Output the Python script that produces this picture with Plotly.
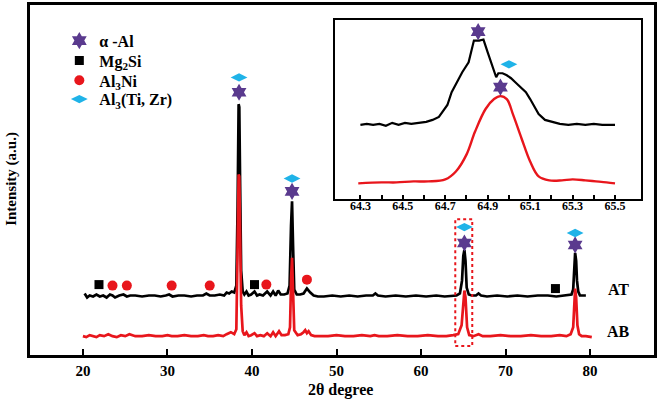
import plotly.graph_objects as go

# ---------------- data ----------------
AT_X = [20.2, 20.5, 20.8, 21.2, 21.6, 22.0, 22.4, 22.8, 23.2, 23.5, 23.8, 24.3, 24.8, 25.2, 25.6,
        26.2, 27.0, 27.8, 28.5, 29.2, 29.8, 30.2, 30.6, 31.3, 32.0, 32.8, 33.5, 34.2, 34.6, 35.0,
        35.6, 36.2, 36.7, 37.0, 37.3, 37.6, 37.9, 38.15, 38.3, 38.42, 38.5, 38.6, 38.72, 38.9,
        39.1, 39.35, 39.6, 39.9, 40.3, 40.6, 40.9, 41.3, 41.8, 42.2, 42.5, 42.8, 43.1, 43.4,
        43.8, 44.2, 44.45, 44.62, 44.74, 44.86, 45.0, 45.3, 45.7, 46.1, 46.5, 46.9, 47.3, 47.8,
        48.5, 49.5, 50.5, 51.5, 52.5, 53.5, 54.3, 54.6, 54.9, 55.8, 57.0, 58.2, 59.4, 60.6,
        61.8, 62.8, 63.6, 64.2, 64.6, 64.85, 65.0, 65.13, 65.26, 65.4, 65.65, 66.0, 66.5, 66.8,
        67.1, 67.8, 69.0, 70.2, 71.4, 72.6, 73.8, 75.0, 76.0, 76.8, 77.4, 77.8, 78.0, 78.13,
        78.23, 78.35, 78.45, 78.6, 78.8, 79.1, 79.5]
AT_Y = [62, 58, 60, 59, 61, 59, 60, 58, 61, 60, 58, 60, 61, 59, 60,
        60, 59, 60, 60, 59, 60, 61, 59, 60, 60, 59, 60, 60, 62, 60,
        60, 61, 60, 63, 62, 64, 63, 70, 150, 253, 250, 170, 85, 64,
        61, 64, 60, 61, 64, 60, 61, 60, 64, 60, 64, 60, 65, 61,
        61, 62, 70, 130, 155, 110, 66, 61, 61, 62, 67, 63, 60, 59,
        59, 60, 59, 60, 59, 60, 60, 62, 60, 59, 60, 59, 60, 59,
        60, 59, 60, 60, 62, 75, 100, 106, 95, 68, 61, 60, 60, 62,
        60, 59, 60, 59, 60, 59, 60, 60, 59, 60, 60, 61, 66, 90,
        103, 95, 75, 64, 60, 60, 60]

AB_X = [20.0, 20.4, 20.8, 21.2, 21.6, 22.0, 22.5, 23.0, 23.5, 24.0, 24.5, 25.0, 25.5, 26.2,
        27.0, 27.8, 28.6, 29.4, 30.0, 30.5, 31.2, 32.0, 32.8, 33.6, 34.3, 34.8, 35.4, 36.0,
        36.6, 37.0, 37.5, 37.9, 38.15, 38.3, 38.42, 38.5, 38.6, 38.72, 38.9, 39.1, 39.35,
        39.6, 39.9, 40.3, 40.6, 41.0, 41.4, 41.8, 42.2, 42.5, 42.8, 43.2, 43.5, 43.9, 44.3,
        44.5, 44.64, 44.74, 44.84, 45.0, 45.4, 45.8, 46.1, 46.3, 46.5, 46.7, 47.0, 47.4, 48.0,
        49.0, 50.0, 51.0, 52.0, 53.0, 54.0, 54.5, 55.0, 56.0, 57.2, 58.4, 59.6, 60.8, 62.0,
        63.0, 63.8, 64.4, 64.8, 65.0, 65.13, 65.26, 65.45, 65.7, 66.2, 66.8, 67.3, 68.2,
        69.4, 70.6, 71.8, 73.0, 74.2, 75.4, 76.4, 77.2, 77.7, 78.0, 78.13, 78.23, 78.35,
        78.5, 78.7, 79.0, 79.5, 80.2]
AB_Y = [19, 18, 20, 19, 18, 20, 19, 21, 19, 18, 20, 19, 21, 19,
        19, 20, 19, 19, 20, 19, 19, 20, 19, 19, 20, 19, 19, 20,
        19, 21, 23, 21, 26, 110, 182, 180, 120, 50, 24, 20, 23,
        19, 20, 22, 19, 20, 19, 22, 19, 23, 19, 24, 20, 20, 21,
        28, 80, 98, 70, 25, 20, 21, 23, 25, 22, 24, 20, 19, 19,
        19, 20, 19, 19, 20, 19, 20, 19, 19, 20, 19, 19, 20, 19,
        19, 20, 21, 30, 55, 65, 58, 28, 20, 19, 21, 19, 19,
        20, 19, 19, 20, 19, 19, 20, 19, 21, 28, 55, 67, 58,
        30, 21, 19, 19, 18]

# phase markers (main panel)
AL_X = [38.47, 44.74, 65.13, 78.23]
AL_Y = [265, 165, 113, 111]
TIZR_X = [38.47, 44.74, 65.13, 78.23]
TIZR_Y = [280, 178, 129, 123]
MG2SI_X = [21.9, 40.3, 75.9]
MG2SI_Y = [71, 71, 67]
AL3NI_X = [23.5, 25.2, 30.5, 35.0, 41.7, 46.5]
AL3NI_Y = [70, 70, 70, 70, 71, 76]

# inset (64.3 - 65.5 deg)
IN_AT_X = [64.30, 64.33, 64.36, 64.39, 64.42, 64.45, 64.48, 64.51, 64.54, 64.57, 64.61, 64.64,
           64.67, 64.71, 64.73, 64.76, 64.78, 64.81, 64.835, 64.86, 64.88, 64.90, 64.92, 64.94,
           64.95, 64.97, 64.99, 65.01, 65.03, 65.06, 65.08, 65.10, 65.12, 65.14, 65.17, 65.20,
           65.24, 65.28, 65.32, 65.36, 65.40, 65.44, 65.48, 65.50]
IN_AT_Y = [75, 76, 75, 76, 74, 77, 75, 77, 76, 77, 78, 80,
           83, 95, 108, 120, 128, 138, 160, 160, 161, 148, 136, 123,
           127, 127, 125, 122, 118, 112, 108, 101, 93, 86, 80, 78,
           76, 75, 76, 75, 76, 75, 75, 75]
IN_AB_X = [64.29, 64.40, 64.47, 64.55, 64.62, 64.70, 64.75, 64.80, 64.84, 64.89, 64.93, 64.96,
           64.99, 65.02, 65.06, 65.10, 65.14, 65.19, 65.25, 65.30, 65.36, 65.41, 65.46, 65.50]
IN_AB_Y = [16, 17, 17, 18, 18, 20, 28, 45, 68, 91, 101, 104,
           101, 85, 61, 38, 23, 19, 19, 20, 19, 18, 17, 16]
IN_AL_X = [64.855, 64.96]
IN_AL_Y = [169, 113]
IN_TIZR_X = [65.0]
IN_TIZR_Y = [136]

MAIN_TICKS = [20, 30, 40, 50, 60, 70, 80]
INSET_TICKS = [64.3, 64.5, 64.7, 64.9, 65.1, 65.3, 65.5]
INSET_MINOR_TICKS = [64.4, 64.6, 64.8, 65.0, 65.2, 65.4]

# ---------------- styling ----------------
FONT = "Liberation Serif"
BLACK = "#000000"
RED = "#e8161c"
PURPLE = "#5a3a8e"
CYAN = "#1fb3e8"
STAR = "hexagram"
LEG_FONT = dict(family=FONT, size=16, color="black", weight="bold")

fig = go.Figure()

fig.add_trace(go.Scatter(x=AT_X, y=AT_Y, mode="lines", line=dict(color=BLACK, width=2.7),
                         showlegend=False, hoverinfo="skip"))
fig.add_trace(go.Scatter(x=AB_X, y=AB_Y, mode="lines", line=dict(color=RED, width=2.7),
                         showlegend=False, hoverinfo="skip"))

fig.add_trace(go.Scatter(x=AL_X, y=AL_Y, mode="markers", name="α -Al", legend="legend",
                         marker=dict(symbol=STAR, size=13, color=PURPLE)))
fig.add_trace(go.Scatter(x=MG2SI_X, y=MG2SI_Y, mode="markers", name="Mg<sub>2</sub>Si",
                         legend="legend2", marker=dict(symbol="square", size=9, color=BLACK)))
fig.add_trace(go.Scatter(x=AL3NI_X, y=AL3NI_Y, mode="markers", name="Al<sub>3</sub>Ni",
                         legend="legend3", marker=dict(symbol="circle", size=10, color=RED)))
fig.add_trace(go.Scatter(x=TIZR_X, y=TIZR_Y, mode="markers", name="Al<sub>3</sub>(Ti, Zr)",
                         legend="legend4",
                         marker=dict(symbol="diamond-wide", size=12, color=CYAN)))

# inset
fig.add_trace(go.Scatter(x=IN_AT_X, y=IN_AT_Y, mode="lines", xaxis="x2", yaxis="y2",
                         line=dict(color=BLACK, width=2.2), showlegend=False, hoverinfo="skip"))
fig.add_trace(go.Scatter(x=IN_AB_X, y=IN_AB_Y, mode="lines", xaxis="x2", yaxis="y2",
                         line=dict(color=RED, width=2.4, shape="spline"), showlegend=False,
                         hoverinfo="skip"))
fig.add_trace(go.Scatter(x=IN_AL_X, y=IN_AL_Y, mode="markers", xaxis="x2", yaxis="y2",
                         marker=dict(symbol=STAR, size=13, color=PURPLE), showlegend=False))
fig.add_trace(go.Scatter(x=IN_TIZR_X, y=IN_TIZR_Y, mode="markers", xaxis="x2", yaxis="y2",
                         marker=dict(symbol="diamond-wide", size=12, color=CYAN), showlegend=False))


def leg(ypix):
    # legend positioned by the pixel row of its item centre
    return dict(x=0.047, y=(355 - ypix) / 353, xanchor="left", yanchor="middle",
                bgcolor="rgba(0,0,0,0)", font=LEG_FONT, borderwidth=0)


fig.update_layout(
    width=659, height=399,
    margin=dict(l=30, r=4, t=2, b=44),
    paper_bgcolor="white", plot_bgcolor="white",
    font=dict(family=FONT, color="black", size=14),
    xaxis=dict(range=[13.74, 87.56], tickvals=MAIN_TICKS, ticks="inside", ticklen=6,
               tickwidth=2, tickcolor="black", showline=True, linewidth=3, linecolor="black",
               mirror=True, showgrid=False, zeroline=False,
               tickfont=dict(family=FONT, size=15, color="black", weight="bold")),
    yaxis=dict(range=[0, 353], showticklabels=False, ticks="", showline=True, linewidth=3,
               linecolor="black", mirror=True, showgrid=False, zeroline=False),
    xaxis2=dict(domain=[0.488, 0.979], anchor="y2", range=[64.178, 65.622],
                tickvals=INSET_TICKS, ticks="inside", ticklen=4, ticklabelstandoff=-6,
                tickwidth=1.5, tickcolor="black", showline=True, linewidth=2,
                linecolor="black", mirror=True, showgrid=False, zeroline=False,
                minor=dict(tickvals=INSET_MINOR_TICKS, ticks="inside", ticklen=4,
                           tickwidth=1.5, tickcolor="black", showgrid=False),
                tickfont=dict(family=FONT, size=12, color="black", weight="bold")),
    yaxis2=dict(domain=[0.445, 0.958], anchor="x2", range=[0, 181], showticklabels=False,
                ticks="", showline=True, linewidth=2, linecolor="black", mirror=True,
                showgrid=False, zeroline=False),
    legend=leg(38), legend2=leg(58), legend3=leg(78), legend4=leg(97),
    shapes=[dict(type="rect", xref="x", yref="y", x0=64.05, x1=66.06, y0=9, y1=137,
                 line=dict(color=RED, width=2, dash="dot"))],
    annotations=[
        dict(text="AT", x=83.4, y=66, xref="x", yref="y", showarrow=False,
             font=dict(family=FONT, size=16, color="black", weight="bold")),
        dict(text="AB", x=83.4, y=24, xref="x", yref="y", showarrow=False,
             font=dict(family=FONT, size=16, color="black", weight="bold")),
        dict(text="2θ degree", x=0.4976, y=-0.099, xref="paper", yref="paper", showarrow=False,
             xanchor="center", yanchor="middle",
             font=dict(family=FONT, size=16, color="black", weight="bold")),
        dict(text="Intensity (a.u.)", x=-0.029, y=0.503, xref="paper", yref="paper",
             showarrow=False, textangle=-90, xanchor="center", yanchor="middle",
             font=dict(family=FONT, size=15, color="black", weight="bold")),
    ],
)

fig.write_html("out.html", config={"displayModeBar": False},
               post_script="document.body.style.margin='0';")
